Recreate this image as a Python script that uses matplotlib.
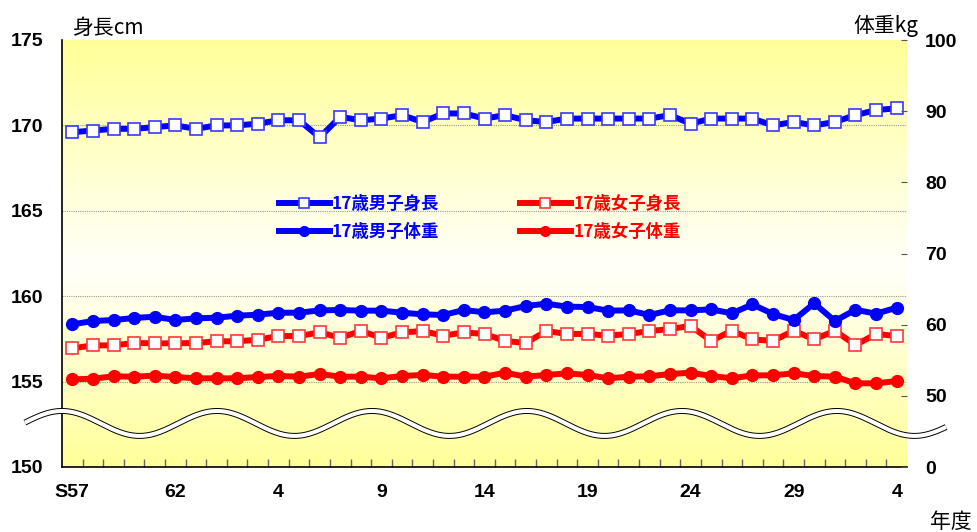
import numpy as np
import matplotlib
matplotlib.use('Agg')
import matplotlib.pyplot as plt
from matplotlib.colors import LinearSegmentedColormap

plt.rcParams['font.family'] = ['Noto Sans CJK JP', 'DejaVu Sans']

# S57 (1982) .. R4 (2022)
tick_labels = ['S57', '62', '4', '9', '14', '19', '24', '29', '4']

boys_height = [169.6, 169.7, 169.8, 169.8, 169.9, 170.0, 169.8, 170.0, 170.0, 170.1,
               170.3, 170.3, 169.3, 170.5, 170.3, 170.4, 170.6, 170.2, 170.7, 170.7,
               170.4, 170.6, 170.3, 170.2, 170.4, 170.4, 170.4, 170.4, 170.4, 170.6,
               170.1, 170.4, 170.4, 170.4, 170.0, 170.2, 170.0, 170.2, 170.6, 170.9,
               171.0]
girls_height = [156.95, 157.12, 157.12, 157.26, 157.24, 157.24, 157.26, 157.36, 157.36, 157.45,
                157.67, 157.67, 157.88, 157.57, 157.96, 157.57, 157.88, 157.96, 157.69, 157.88,
                157.79, 157.38, 157.26, 157.96, 157.79, 157.79, 157.69, 157.79, 157.96, 158.08,
                158.26, 157.38, 157.98, 157.47, 157.38, 157.98, 157.47, 157.98, 157.14, 157.79,
                157.67]
boys_weight = [60.05, 60.51, 60.65, 60.94, 61.12, 60.65, 60.89, 60.98, 61.26, 61.40,
               61.68, 61.68, 62.01, 62.06, 61.97, 61.97, 61.68, 61.45, 61.36, 62.06,
               61.73, 61.97, 62.62, 62.95, 62.53, 62.48, 61.97, 62.01, 61.36, 62.01,
               62.01, 62.15, 61.59, 62.85, 61.50, 60.65, 63.00, 60.51, 62.10, 61.54,
               62.39]
girls_weight = [52.32, 52.41, 52.74, 52.69, 52.83, 52.65, 52.46, 52.46, 52.46, 52.65,
                52.79, 52.69, 53.07, 52.69, 52.69, 52.46, 52.79, 52.93, 52.69, 52.69,
                52.69, 53.25, 52.69, 52.93, 53.16, 52.93, 52.46, 52.69, 52.74, 53.07,
                53.25, 52.79, 52.46, 52.88, 52.88, 53.16, 52.79, 52.69, 51.76, 51.76,
                52.08]

labels = ['17歳男子身長', '17歳男子体重', '17歳女子身長', '17歳女子体重']
blue = '#0000ff'
red = '#ff0000'

n = len(boys_height)
x = np.arange(n)

fig = plt.figure(figsize=(9.77, 5.32), dpi=100)
ax = fig.add_axes([62/977, 65/532, 845/977, 427/532])
ax2 = ax.twinx()

ax.set_xlim(-0.5, n - 0.5)
ax.set_ylim(150, 175)
ax2.set_ylim(40, 100)

# background gradient: yellow - white - yellow
cmap = LinearSegmentedColormap.from_list('bg', [(0, '#ffff99'), (0.47, '#fffffa'), (1, '#ffff99')])
grad = np.linspace(0, 1, 256).reshape(-1, 1)
ax.imshow(grad, extent=[-0.5, n - 0.5, 150, 175], aspect='auto', cmap=cmap,
          origin='lower', zorder=0)

lw = 4.3
h1, = ax.plot(x, boys_height, color=blue, lw=lw, marker='s', ms=8.5, mfc='white',
              mec='#3838ff', mew=1.2, zorder=3)
h3, = ax.plot(x, girls_height, color=red, lw=lw, marker='s', ms=8.5, mfc='white',
              mec='#ff3838', mew=1.2, zorder=3)
h2, = ax2.plot(x, boys_weight, color=blue, lw=lw, marker='o', ms=8.5, zorder=3)
h4, = ax2.plot(x, girls_weight, color=red, lw=lw, marker='o', ms=8.5, zorder=3)

# grid
ax.set_yticks([150, 155, 160, 165, 170, 175])
ax.grid(axis='y', color='#999999', ls=(0, (1, 1)), lw=0.8)
ax.get_ygridlines()[0].set_visible(False)
ax.get_ygridlines()[-1].set_visible(False)

tick_font = dict(family='Liberation Sans', weight='bold', size=14)
ax.set_yticklabels([str(v) for v in [150, 155, 160, 165, 170, 175]], fontdict=tick_font)
ax.tick_params(axis='y', length=0, pad=13.5)

ax.set_xticks(np.arange(0, n, 5))
ax.set_xticklabels(tick_labels, fontdict=tick_font)
ax.tick_params(axis='x', which='major', length=0, pad=12)
ax.set_xticks(np.arange(0.5, n - 1, 1), minor=True)
ax.tick_params(axis='x', which='minor', direction='in', length=6, color='#666666', width=1)

ax2.set_yticks([40, 50, 60, 70, 80, 90, 100])
ax2.set_yticklabels(['0', '50', '60', '70', '80', '90', '100'], fontdict=tick_font)
ax2.tick_params(axis='y', direction='in', length=4, color='#555555', pad=13)

for s in ['top', 'right']:
    ax.spines[s].set_visible(False)
for s in ax2.spines.values():
    s.set_visible(False)
ax.spines['left'].set_linewidth(1.2)
ax.spines['bottom'].set_linewidth(1.2)

# axis break mark (double wavy line)
xw = np.linspace(-2.3, 42.4, 600)
yw = 152.55 + 0.73 * np.cos(2 * np.pi * (xw + 0.5) / 7.52)
ax.plot(xw, yw, color='black', lw=4.3, clip_on=False, zorder=5, solid_capstyle='butt')
ax.plot(xw, yw, color='white', lw=2.9, clip_on=False, zorder=6, solid_capstyle='butt')

leg = ax2.legend([h1, h2, h3, h4], labels, ncol=2, loc='upper left',
                 bbox_to_anchor=(0.257, 0.636), frameon=False, handlelength=2.9,
                 handletextpad=0.15, columnspacing=4.65, labelspacing=0.55,
                 borderpad=0, borderaxespad=0,
                 prop=dict(family=['Noto Sans CJK JP', 'DejaVu Sans'], weight='bold', size=12.5))
for t, c in zip(leg.get_texts(), [blue, blue, red, red]):
    t.set_color(c)
for lh in leg.legend_handles:
    lh.set_markersize(7)

fig.text(72/977, 1 - 28/532, '身長cm', fontsize=15, ha='left', va='center')
fig.text(853/977, 1 - 26/532, '体重kg', fontsize=15, ha='left', va='center')
fig.text(930/977, 1 - 522/532, '年度', fontsize=15, ha='left', va='center')

fig.savefig('out.png', dpi=100)
